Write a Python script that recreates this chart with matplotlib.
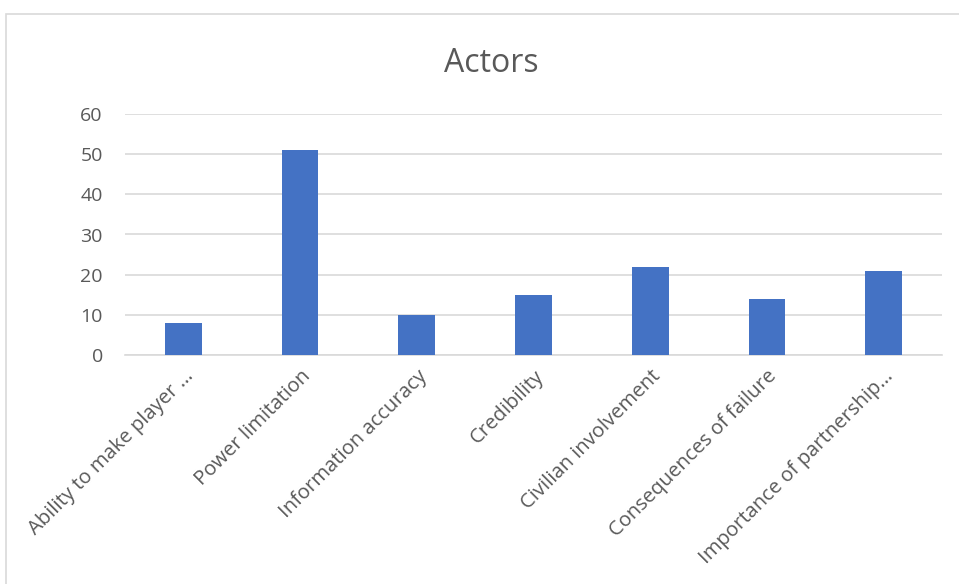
import matplotlib
matplotlib.use("Agg")
import matplotlib.pyplot as plt
from matplotlib.patches import Rectangle
import matplotlib.transforms as mtransforms

categories = ["Ability to make player …", "Power limitation", "Information accuracy",
              "Credibility", "Civilian involvement", "Consequences of failure",
              "Importance of partnership…"]
values = [8, 51, 10, 15, 22, 14, 21]
yticks = [0, 10, 20, 30, 40, 50, 60]

W, H = 959, 584
fig = plt.figure(figsize=(W / 100, H / 100), dpi=100)
plt.rcParams['font.family'] = ['Open Sans', 'DejaVu Sans']

# chart border
fig.patches.append(Rectangle((6 / W, -0.1), 1.2, 1 - 14 / H + 0.1, transform=fig.transFigure,
                             fill=False, edgecolor='#d9d9d9', linewidth=1.2))

ax = fig.add_axes([125 / W, 1 - 355 / H, (942 - 125) / W, (355 - 114) / H])
x = list(range(len(categories)))
ax.bar(x, values, width=0.315, color='#4472C4', zorder=3)
ax.set_xlim(-0.5, len(categories) - 0.5)
ax.set_ylim(0, 60)
ax.set_yticks(yticks)
ax.set_yticklabels([str(v) for v in yticks], fontsize=14, color='#595959')
ax.set_xticks(x)
ax.set_xticklabels(categories, rotation=45, ha='right', va='top', rotation_mode='anchor',
                   fontsize=14.6, color='#595959')
offset = mtransforms.ScaledTranslation(7 / 100, 0, fig.dpi_scale_trans)
for lab in ax.get_xticklabels():
    lab.set_transform(lab.get_transform() + offset)
ax.tick_params(axis='both', length=0)
ax.tick_params(axis='y', pad=16)
ax.tick_params(axis='x', pad=8)
ax.grid(axis='y', color='#d9d9d9', linewidth=1.2, zorder=0)
for s in ['top', 'right', 'left']:
    ax.spines[s].set_visible(False)
ax.spines['bottom'].set_color('#d9d9d9')
ax.spines['bottom'].set_linewidth(1.2)
fig.text(491 / W, 1 - 72 / H, "Actors", ha='center', va='baseline', fontsize=23, color='#595959')

fig.savefig("out.png", dpi=100)
